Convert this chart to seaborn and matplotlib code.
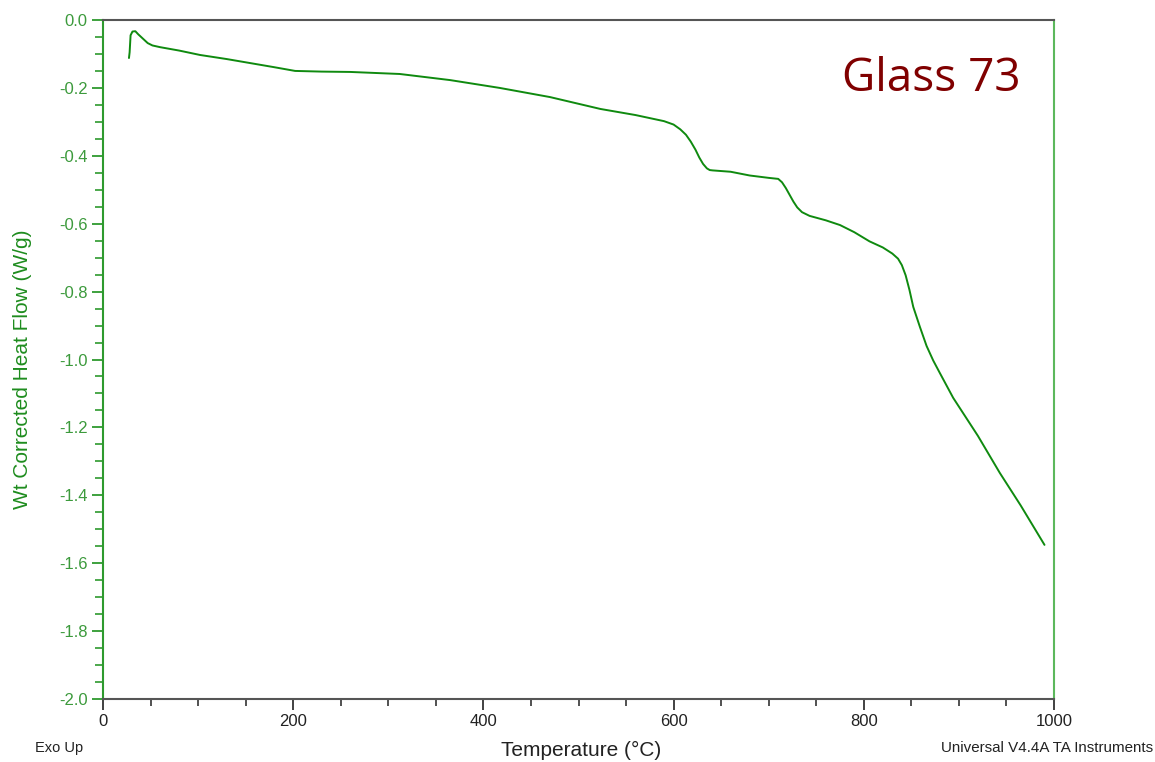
import numpy as np
import pandas as pd
import matplotlib
matplotlib.use("Agg")
import matplotlib.pyplot as plt
from matplotlib.ticker import MultipleLocator, FormatStrFormatter
import seaborn as sns

# ---- data ----
temperature = [27.3, 28.0, 29.0, 31.0, 34.0, 37.0, 42.0, 47.0, 52.0, 60.0, 80.0,
               102, 130, 155, 180, 202, 230, 260, 312, 365, 417, 470, 523, 560,
               590, 600, 607, 613, 618, 623, 627, 631, 635, 638, 641, 660, 680,
               700, 710, 714, 718, 722, 726, 730, 735, 743, 760, 775, 790, 806,
               820, 830, 836, 840, 844, 848, 852, 859, 866, 873, 880, 894, 920,
               943, 965, 990]
heat_flow = [-0.112, -0.095, -0.045, -0.034, -0.033, -0.042, -0.055, -0.068, -0.075,
             -0.080, -0.090, -0.103, -0.115, -0.127, -0.139, -0.150, -0.152, -0.153,
             -0.159, -0.177, -0.200, -0.227, -0.262, -0.280, -0.298, -0.308, -0.322,
             -0.338, -0.358, -0.382, -0.405, -0.424, -0.437, -0.442, -0.443, -0.447,
             -0.458, -0.465, -0.468, -0.478, -0.495, -0.515, -0.535, -0.552, -0.566,
             -0.577, -0.590, -0.604, -0.625, -0.652, -0.670, -0.688, -0.703, -0.722,
             -0.752, -0.795, -0.845, -0.904, -0.960, -1.003, -1.040, -1.113, -1.225,
             -1.334, -1.430, -1.546]
x_ticks = [0, 200, 400, 600, 800, 1000]
y_ticks = [0.0, -0.2, -0.4, -0.6, -0.8, -1.0, -1.2, -1.4, -1.6, -1.8, -2.0]

title_text = "Glass 73"
x_label = "Temperature (°C)"
y_label = "Wt Corrected Heat Flow (W/g)"
corner_left = "Exo Up"
corner_right = "Universal V4.4A TA Instruments"

df = pd.DataFrame({"T": temperature, "HF": heat_flow})

sns.set_theme(style="white")
plt.rcParams["font.family"] = ["Liberation Sans", "DejaVu Sans"]

W, H = 1155, 762
fig = plt.figure(figsize=(W / 100, H / 100), dpi=100)
ax = fig.add_axes([103 / W, 1 - 699 / H, (1054 - 103) / W, (699 - 20) / H])

sns.lineplot(data=df, x="T", y="HF", ax=ax, sort=False, estimator=None,
             color="#0f8a0f", linewidth=1.4)

ax.set_xlim(0, 1000)
ax.set_ylim(-2.0, 0.0)
ax.set_xticks(x_ticks)
ax.set_yticks(y_ticks)
ax.xaxis.set_minor_locator(MultipleLocator(50))
ax.yaxis.set_minor_locator(MultipleLocator(0.05))
ax.yaxis.set_major_formatter(FormatStrFormatter("%.1f"))
ax.set_xlabel("")
ax.set_ylabel("")

green = "#2e9a2e"
ax.spines["left"].set_color(green)
ax.spines["right"].set_color("#5cb85c")
ax.spines["top"].set_color("#555555")
ax.spines["bottom"].set_color("#555555")
for s in ax.spines.values():
    s.set_linewidth(1.5)

ax.tick_params(axis="y", which="major", direction="out", length=8, width=1.3,
               color=green, labelcolor="#3c9a3c", labelsize=12, pad=3,
               left=True, right=False)
ax.tick_params(axis="y", which="minor", direction="out", length=6, width=1.2,
               color=green, left=True, right=False)
ax.tick_params(axis="x", which="major", direction="out", length=8, width=1.3,
               color="#333333", labelcolor="#222222", labelsize=12, pad=3,
               bottom=True, top=False)
ax.tick_params(axis="x", which="minor", direction="out", length=5, width=1.2,
               color="#333333", bottom=True, top=False)
ax.grid(False)

fig.text(581 / W, 1 - 750 / H, x_label, ha="center", va="center",
         fontsize=15, color="#222222")
fig.text(23 / W, 1 - 369 / H, y_label, ha="center", va="center",
         rotation=90, fontsize=15, color="#1e8c1e")
fig.text(35 / W, 1 - 748 / H, corner_left, ha="left", va="center",
         fontsize=10.5, color="#222222")
fig.text(1153 / W, 1 - 748 / H, corner_right, ha="right", va="center",
         fontsize=10.9, color="#222222")
fig.text(931 / W, 1 - 91 / H, title_text, ha="center", va="baseline",
         fontsize=33, color="#800000", family=["Open Sans", "DejaVu Sans"])

fig.savefig("out.png", dpi=100, facecolor="white")
